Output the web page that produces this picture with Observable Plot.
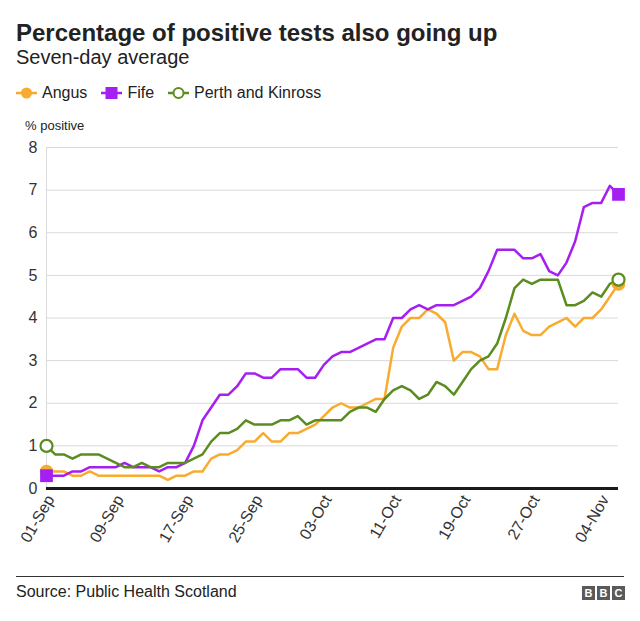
<!DOCTYPE html>
<html><head><meta charset="utf-8">
<script src="https://cdn.jsdelivr.net/npm/d3@7"></script>
<script src="https://cdn.jsdelivr.net/npm/@observablehq/plot@0.6"></script>
<style>
body{margin:0;background:#fff;font-family:"Liberation Sans",Arial,Helvetica,sans-serif;color:#222;}
#wrap{position:relative;width:640px;height:621px;overflow:hidden;}
.abs{position:absolute;white-space:nowrap;}
#title{left:16px;top:21px;font-size:24px;line-height:24px;font-weight:bold;color:#222;}
#subtitle{left:16px;top:47px;font-size:20px;line-height:20px;color:#222;}
#legend{left:16px;top:85px;font-size:16px;line-height:16px;color:#222;display:flex;align-items:center;}
#legend .item{display:flex;align-items:center;margin-right:14px;}
#legend svg{margin-right:5px;}
#ylab{left:25px;top:119px;font-size:13px;line-height:13px;color:#222;}
#chart{left:0;top:138px;}
#rule{left:16px;top:576px;width:608px;height:1px;background:#333;}
#source{left:16px;top:584px;font-size:16px;line-height:16px;color:#222;}
#bbc{left:580px;top:586px;display:flex;}
#bbc span{display:inline-block;width:13px;height:14px;background:#5a5a5a;color:#fff;font-weight:bold;font-size:11px;line-height:14px;text-align:center;margin-left:2px;}
</style></head>
<body>
<div id="wrap">
  <div id="title" class="abs">Percentage of positive tests also going up</div>
  <div id="subtitle" class="abs">Seven-day average</div>
  <div id="legend" class="abs"></div>
  <div id="ylab" class="abs">% positive</div>
  <div id="chart" class="abs"></div>
  <div id="rule" class="abs"></div>
  <div id="source" class="abs">Source: Public Health Scotland</div>
  <div id="bbc" class="abs"><span>B</span><span>B</span><span>C</span></div>
</div>
<script>
// ---- data ----
const startDate = "2020-09-01";
const seriesNames = ["Angus", "Fife", "Perth and Kinross"];
const seriesColors = ["#f9ab2f", "#a61ff2", "#5b8c1f"];
const angus = [0.4,0.4,0.4,0.3,0.3,0.4,0.3,0.3,0.3,0.3,0.3,0.3,0.3,0.3,0.2,0.3,0.3,0.4,0.4,0.7,
  0.8,0.8,0.9,1.1,1.1,1.3,1.1,1.1,1.3,1.3,1.4,1.5,1.7,1.9,2.0,1.9,1.9,2.0,2.1,2.1,
  3.3,3.8,4.0,4.0,4.2,4.1,3.9,3.0,3.2,3.2,3.1,2.8,2.8,3.6,4.1,3.7,3.6,3.6,3.8,3.9,
  4.0,3.8,4.0,4.0,4.2,4.5,4.8];
const fife = [0.3,0.3,0.3,0.4,0.4,0.5,0.5,0.5,0.5,0.6,0.5,0.5,0.5,0.4,0.5,0.5,0.6,1.0,1.6,1.9,
  2.2,2.2,2.4,2.7,2.7,2.6,2.6,2.8,2.8,2.8,2.6,2.6,2.9,3.1,3.2,3.2,3.3,3.4,3.5,3.5,
  4.0,4.0,4.2,4.3,4.2,4.3,4.3,4.3,4.4,4.5,4.7,5.1,5.6,5.6,5.6,5.4,5.4,5.5,5.1,5.0,
  5.3,5.8,6.6,6.7,6.7,7.1,6.9];
const perth = [1.0,0.8,0.8,0.7,0.8,0.8,0.8,0.7,0.6,0.5,0.5,0.6,0.5,0.5,0.6,0.6,0.6,0.7,0.8,1.1,
  1.3,1.3,1.4,1.6,1.5,1.5,1.5,1.6,1.6,1.7,1.5,1.6,1.6,1.6,1.6,1.8,1.9,1.9,1.8,2.1,
  2.3,2.4,2.3,2.1,2.2,2.5,2.4,2.2,2.5,2.8,3.0,3.1,3.4,4.0,4.7,4.9,4.8,4.9,4.9,4.9,
  4.3,4.3,4.4,4.6,4.5,4.8,4.9];
const xTickLabels = ["01-Sep","09-Sep","17-Sep","25-Sep","03-Oct","11-Oct","19-Oct","27-Oct","04-Nov"];
const yTicks = [0,1,2,3,4,5,6,7,8];

// ---- build table ----
const parse = d3.utcParse("%Y-%m-%d");
const t0 = parse(startDate);
const day = i => d3.utcDay.offset(t0, i);
const allValues = [angus, fife, perth];
const rows = [];
allValues.forEach((vals, s) => vals.forEach((v, i) => rows.push({series: seriesNames[s], date: day(i), value: v})));
const ends = rows.filter(r => {
  const n = allValues[seriesNames.indexOf(r.series)].length;
  return +r.date === +t0 || +r.date === +day(n - 1);
});
const fmt = d3.utcFormat("%d-%b");
const tickDates = xTickLabels.map(lbl => {
  for (let i = 0; i < 80; i++) if (fmt(day(i)) === lbl) return day(i);
});
const n = angus.length;

const marks = [
  Plot.gridY(yTicks, {stroke: "#d9d9d9", strokeOpacity: 1, strokeWidth: 1}),
  Plot.ruleX([t0], {y1: 0, y2: 8, stroke: "#dcdcdc", strokeWidth: 1}),
  Plot.axisY(yTicks, {tickSize: 0, tickPadding: 9, fontSize: 16, fill: "#333", label: null}),
  Plot.axisX(tickDates, {tickSize: 0, tickPadding: 8, tickRotate: -60, fontSize: 16, dx: 4, fill: "#333", tickFormat: fmt, label: null}),
  Plot.ruleY([0], {stroke: "#1a1a1a", strokeWidth: 3})
];
seriesNames.forEach((s, k) => {
  marks.push(Plot.line(rows.filter(r => r.series === s), {x: "date", y: "value", stroke: seriesColors[k], strokeWidth: 2.5, curve: "linear"}));
});
marks.push(Plot.dot(ends.filter(r => r.series === "Angus"), {x: "date", y: "value", r: 6, fill: seriesColors[0], stroke: seriesColors[0]}));
marks.push(Plot.dot(ends.filter(r => r.series === "Fife"), {x: "date", y: "value", r: 7.2, symbol: "square", fill: seriesColors[1]}));
marks.push(Plot.dot(ends.filter(r => r.series === "Perth and Kinross"), {x: "date", y: "value", r: 6, fill: "white", stroke: seriesColors[2], strokeWidth: 2.2}));

const chart = Plot.plot({
  width: 640,
  height: 430,
  marginLeft: 46,
  marginRight: 22,
  marginTop: 9,
  marginBottom: 80,
  style: {fontFamily: '"Liberation Sans", Arial, sans-serif', background: "transparent", overflow: "visible"},
  x: {type: "utc", domain: [t0, day(n - 1)]},
  y: {domain: [0, 8]},
  marks
});
document.getElementById("chart").appendChild(chart);

// ---- legend ----
const leg = d3.select("#legend");
seriesNames.forEach((s, k) => {
  const it = leg.append("div").attr("class", "item");
  const sv = it.append("svg").attr("width", 21).attr("height", 16);
  sv.append("line").attr("x1", 0).attr("x2", 21).attr("y1", 8).attr("y2", 8).attr("stroke", seriesColors[k]).attr("stroke-width", 2.5);
  if (k === 0) sv.append("circle").attr("cx", 10.5).attr("cy", 8).attr("r", 5.5).attr("fill", seriesColors[k]);
  if (k === 1) sv.append("rect").attr("x", 4.5).attr("y", 2).attr("width", 12).attr("height", 12).attr("fill", seriesColors[k]);
  if (k === 2) sv.append("circle").attr("cx", 10.5).attr("cy", 8).attr("r", 5).attr("fill", "white").attr("stroke", seriesColors[k]).attr("stroke-width", 2);
  it.append("span").text(s);
});
</script>
</body></html>
